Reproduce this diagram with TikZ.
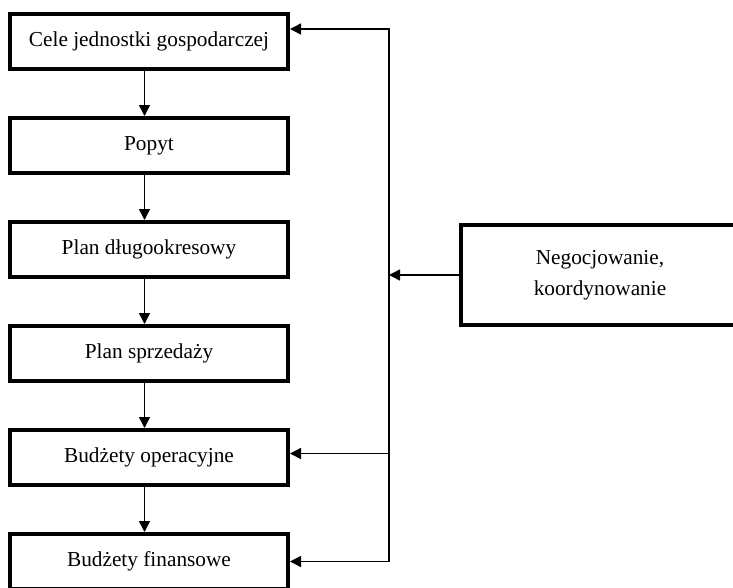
\documentclass[tikz,border=0pt]{standalone}
\usepackage{fontspec}
\setmainfont{Liberation Serif}
\usetikzlibrary{arrows.meta,positioning}

\begin{document}
\begin{tikzpicture}[x=1pt, y=-1pt,
  stage/.style={draw, line width=4pt, fill=white, minimum width=278pt, minimum height=55pt,
    inner sep=0pt, align=center, font=\fontsize{21.3}{31}\selectfont},
  flow/.style={line width=1.5pt, -{Triangle[length=11pt,width=11pt]}},
  node distance=45pt]
\useasboundingbox (0,0) rectangle (733,587);
\clip (0,0) rectangle (733,587);

% main chain
\node[stage] (cele) at (149,41.5) {Cele jednostki gospodarczej};
\node[stage, below=of cele] (popyt) {Popyt};
\node[stage, below=of popyt] (dlugo) {Plan długookresowy};
\node[stage, below=of dlugo] (sprzedaz) {Plan sprzedaży};
\node[stage, below=of sprzedaz] (operacyjne) {Budżety operacyjne};
\node[stage, below=of operacyjne] (finansowe) {Budżety finansowe};

% side box
\node[stage, minimum height=100pt] (negocjacje) at (600,275) {Negocjowanie,\\koordynowanie};

\draw[flow] ([xshift=-4.5pt]cele.south) -- ([xshift=-4.5pt]popyt.north);
\draw[flow] ([xshift=-4.5pt]popyt.south) -- ([xshift=-4.5pt]dlugo.north);
\draw[flow] ([xshift=-4.5pt]dlugo.south) -- ([xshift=-4.5pt]sprzedaz.north);
\draw[flow] ([xshift=-4.5pt]sprzedaz.south) -- ([xshift=-4.5pt]operacyjne.north);
\draw[flow] ([xshift=-4.5pt]operacyjne.south) -- ([xshift=-4.5pt]finansowe.north);

% feedback line
\coordinate (spine) at (389,29);
\draw[flow] (spine |- finansowe.east) -- (spine) -- (cele.east |- spine);
\draw[flow] (spine |- finansowe.east) -- (finansowe.east);
\draw[flow] ([yshift=4pt]spine |- operacyjne.east) -- ([yshift=4pt]operacyjne.east);
\draw[flow] (negocjacje.west) -- (negocjacje.west -| spine);

\end{tikzpicture}
\end{document}
